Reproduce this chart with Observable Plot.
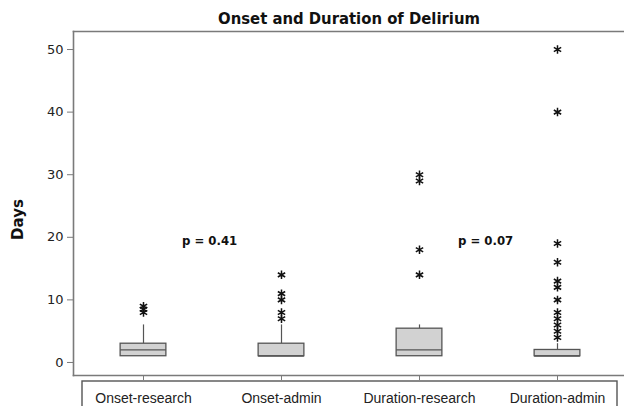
<!DOCTYPE html>
<html><head><meta charset="utf-8">
<script src="https://cdn.jsdelivr.net/npm/d3@7"></script>
<script src="https://cdn.jsdelivr.net/npm/@observablehq/plot@0.6"></script>
<style>body{margin:0;background:#fff;overflow:hidden}</style>
</head><body><div id="chart"></div>
<script>
const categories = ["Onset-research","Onset-admin","Duration-research","Duration-admin"];
const q1 = [1,1,1,1];
const median = [2,1,2,1];
const q3 = [3,3,5.4,2];
const whiskerHigh = [6,6,6,3];
const outliers = [[8,8.5,9],[7,8,10,11,14],[14,18,29,30],[4,5,6,7,8,10,12,13,16,19,40,50]];
const pText = ["p = 0.41","p = 0.07"];
const pAfter = ["Onset-research","Duration-research"];
const pY = [19.5,19.5];
const yTicks = [0,10,20,30,40,50];

const boxes = categories.map((c,i)=>({cat:c,q1:q1[i],med:median[i],q3:q3[i],hi:whiskerHigh[i]}));
const pts = categories.flatMap((c,i)=>outliers[i].map(v=>({cat:c,v})));
const pData = pText.map((t,i)=>({cat:pAfter[i],text:t,y:pY[i]}));

const W = 624, H = 406;
const ML = 73, MT = 31, MB = 31;
const bandW = (626-ML)/categories.length;
const gray = "#7a7a7a";

const chart = Plot.plot({
  width: W, height: H,
  marginLeft: ML, marginRight: 0, marginTop: MT, marginBottom: MB,
  style: {fontFamily: "DejaVu Sans, sans-serif", background: "#fff", color: "#222"},
  x: {type: "band", domain: categories, range: [ML, 626], padding: 0},
  y: {domain: [-2.08, 52.88]},
  marks: [
    Plot.frame({anchor: "top", stroke: gray, strokeWidth: 1.6}),
    Plot.frame({anchor: "left", stroke: gray, strokeWidth: 1.6}),
    Plot.frame({anchor: "bottom", stroke: gray, strokeWidth: 1.6}),
    Plot.axisY({ticks: yTicks, tickSize: 6, tickPadding: 4, fontSize: 13, label: null, stroke: gray, fill: "#222"}),
    Plot.axisX({tickSize: 5, tickPadding: 13, fontSize: 14, label: null, stroke: gray, fill: "#222", fontFamily: "Liberation Sans, Arial, sans-serif"}),
    Plot.ruleX(boxes, {x: "cat", y1: "q3", y2: "hi", stroke: "#555", strokeWidth: 1.2}),
    Plot.barY(boxes, {x: "cat", y1: "q1", y2: "q3", fill: "#d2d2d2", stroke: "#555", strokeWidth: 1.3, insetLeft: (bandW-46)/2, insetRight: (bandW-46)/2}),
    Plot.tickY(boxes, {x: "cat", y: "med", stroke: "#555", strokeWidth: 1.3, insetLeft: (bandW-46)/2, insetRight: (bandW-46)/2}),
    Plot.dot(pts, {x: "cat", y: "v", symbol: "asterisk", r: 4, stroke: "#111", strokeWidth: 1.5}),
    Plot.text(pData, {x: "cat", y: "y", text: "text", dx: bandW/2 - 3, fontSize: 13, fontWeight: "bold", fill: "#111", fontFamily: "DejaVu Sans Condensed, DejaVu Sans, sans-serif"}),
    Plot.text(["Onset and Duration of Delirium"], {frameAnchor: "top", dy: -19, fontSize: 16.5, fontWeight: "bold", fill: "#111", fontFamily: "DejaVu Sans Condensed, DejaVu Sans, sans-serif"}),
    Plot.text(["Days"], {frameAnchor: "left", textAnchor: "middle", dx: -55, dy: 16, rotate: -90, fontSize: 15, fontWeight: "bold", fill: "#111"})
  ]
});
document.getElementById("chart").appendChild(chart);
const svg = d3.select(chart.tagName.toLowerCase() === "svg" ? chart : chart.querySelector("svg"));
svg.insert("rect", ":first-child").attr("x", 0).attr("y", 0).attr("width", W).attr("height", H).attr("fill", "#fff");
svg.append("rect").attr("x", 82).attr("y", 381).attr("width", 535).attr("height", 40)
  .attr("fill", "none").attr("stroke", "#555").attr("stroke-width", 1.4);
</script>
</body></html>
